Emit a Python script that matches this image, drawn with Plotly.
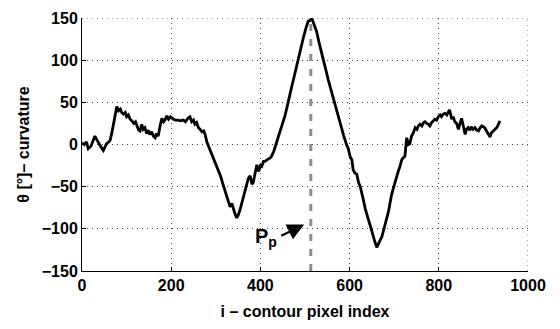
import plotly.graph_objects as go

# contour pixel index (x) and curvature in degrees (y)
idx = [0,5,10,14,20,25,29,35,40,44,48,52,55,60,63,67,70,74,78,82,86,89,93,97,100,104,108,112,116,120,
       123,127,130,134,137,141,145,148,152,156,160,164,167,171,175,179,183,186,190,194,198,202,205,210,
       215,220,227,232,237,242,246,250,253,257,261,265,269,273,276,280,284,287,292,297,302,306,311,316,
       321,325,329,332,336,339,343,347,350,354,358,361,365,369,373,377,381,384,388,392,396,400,403,407,
       410,414,418,422,425,430,435,440,445,450,455,460,465,470,475,480,485,490,496,501,507,511,515,520,
       526,531,537,542,547,552,557,562,567,572,577,582,587,593,597,601,605,608,612,616,620,624,627,631,
       635,639,642,646,650,653,657,661,664,668,672,675,679,683,687,690,694,698,701,705,709,713,717,720,
       724,728,732,735,739,743,747,751,754,758,762,766,769,773,777,780,784,788,791,795,799,803,806,810,
       814,818,821,824,827,829,832,836,840,844,847,851,855,859,862,866,870,873,877,881,885,889,893,896,
       900,904,907,911,915,918,922,926,930,934,937]
curv = [2,0,3,-5,-2,6,10,4,-1,-4,-7,-2,1,3,5,14,22,30,45,40,42,38,36,38,33,35,30,28,25,27,
        22,17,16,24,18,20,13,17,12,15,10,8,13,10,22,31,27,29,34,30,33,31,30,29,
        29,28,29,27,31,33,27,29,24,26,20,18,15,16,12,3,-2,-7,-14,-19,-26,-30,-38,-47,
        -56,-62,-70,-74,-70,-76,-82,-87,-84,-78,-70,-62,-56,-48,-40,-37,-47,-45,-33,-24,-32,-25,-26,-20,
        -20,-18,-17,-16,-14,-8,0,8,17,25,34,45,58,68,79,91,103,113,126,136,146,147,150,143,
        134,122,108,99,88,77,67,57,47,38,29,20,10,0,-5,-14,-18,-30,-34,-35,-45,-50,-56,-66,
        -76,-84,-91,-96,-103,-110,-116,-122,-118,-114,-110,-103,-95,-88,-80,-70,-60,-52,-46,-41,-32,-26,-18,-16,
        -14,8,0,1,10,14,20,18,22,24,22,26,27,25,24,22,26,28,30,29,33,35,33,36,
        37,35,38,41,35,30,33,27,25,18,24,31,22,12,18,20,17,21,18,20,17,16,20,22,
        21,19,16,12,9,14,16,18,20,24,28]

peak_x = [513, 513]
peak_y = [-150, 150]

x_ticks = [0, 200, 400, 600, 800, 1000]
y_ticks = [-150, -100, -50, 0, 50, 100, 150]
x_range = [0, 1000]
y_range = [-150, 150]

arrow_head = (498, -95)
arrow_tail = (440, -110)
label_pos = (412, -110)

font_fam = "Liberation Sans, Arial, Helvetica, sans-serif"
grid_color = "#444444"
grid_dash = "1px,4px"

fig = go.Figure()
fig.add_trace(go.Scatter(x=peak_x, y=peak_y, mode="lines",
                         line=dict(color="#8c8c8c", width=3, dash="7px,8px"),
                         hoverinfo="skip", showlegend=False))
fig.add_trace(go.Scatter(x=idx, y=curv, mode="lines",
                         line=dict(color="black", width=2.8),
                         showlegend=False))

# grid lines on the upper and right edges (plotly omits gridlines at the range ends)
fig.add_shape(type="line", xref="x", yref="y", x0=x_range[0], x1=x_range[1], y0=y_range[1], y1=y_range[1],
              line=dict(color=grid_color, width=1, dash=grid_dash), layer="below")
fig.add_shape(type="line", xref="x", yref="y", x0=x_range[1], x1=x_range[1], y0=y_range[0], y1=y_range[1],
              line=dict(color=grid_color, width=1, dash=grid_dash), layer="below")

fig.add_annotation(x=arrow_head[0], y=arrow_head[1], ax=arrow_tail[0], ay=arrow_tail[1],
                   xref="x", yref="y", axref="x", ayref="y", text=" ",
                   showarrow=True, arrowhead=2, arrowsize=1.5, arrowwidth=2.2, arrowcolor="black")
fig.add_annotation(x=label_pos[0], y=label_pos[1], xref="x", yref="y",
                   text="P<sub>p</sub>", showarrow=False,
                   font=dict(family=font_fam, size=20, color="black", weight="bold"))

axis_common = dict(showgrid=True, gridcolor=grid_color, griddash=grid_dash, gridwidth=1,
                   zeroline=False, showline=True, linecolor="black", linewidth=1,
                   ticks="inside", ticklen=4, tickcolor="black",
                   tickfont=dict(family=font_fam, size=16, color="black", weight="bold"))

fig.update_xaxes(range=x_range, tickvals=x_ticks, **axis_common,
                 title=dict(text="i – contour pixel index", standoff=12,
                            font=dict(family=font_fam, size=16, color="black", weight="bold")))
fig.update_yaxes(range=y_range, tickvals=y_ticks, **axis_common,
                 title=dict(text="θ [°]– curvature", standoff=8,
                            font=dict(family=font_fam, size=16, color="black", weight="bold")))

fig.update_layout(width=560, height=329, margin=dict(l=82, r=32, t=10, b=58),
                  paper_bgcolor="white", plot_bgcolor="white")

fig.write_html("out.html")
